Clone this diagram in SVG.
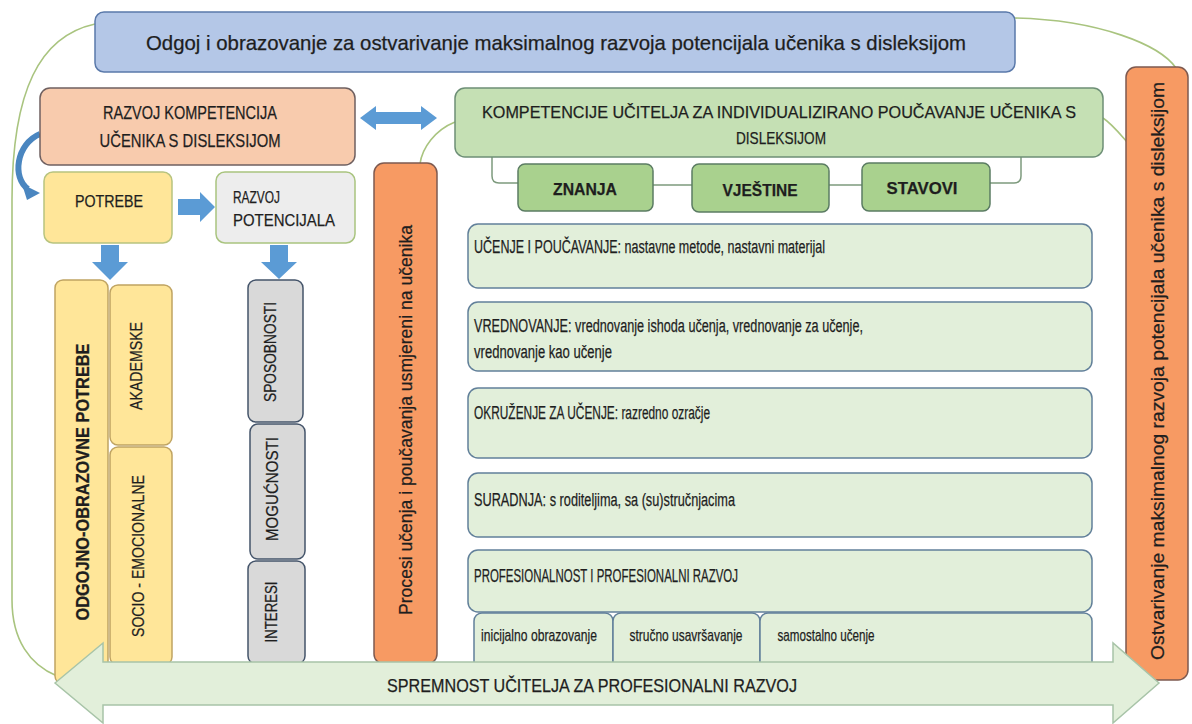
<svg xmlns="http://www.w3.org/2000/svg" width="1192" height="724" viewBox="0 0 1192 724">
<style>
text{font-family:"Liberation Sans",Arial,sans-serif;fill:#1e1e1e;stroke:#1e1e1e;stroke-width:0.25}
.c{text-anchor:middle}
.b{font-weight:bold}
.curve{fill:none;stroke:#a9c47f;stroke-width:1.6}
.peach{fill:#f8cbad;stroke:#6f6060;stroke-width:1.5}
.blue{fill:#b4c7e7;stroke:#5a79aa;stroke-width:1.5}
.gmid{fill:#c5e0b4;stroke:#6d8f76;stroke-width:1.5}
.gdark{fill:#a9d18e;stroke:#5b7c63;stroke-width:1.5}
.glight{fill:#e2efda;stroke:#62809a;stroke-width:1.5}
.orange{fill:#f79a63;stroke:#7e5a50;stroke-width:1.5}
.yel{fill:#ffe699;stroke:#b8c47f;stroke-width:1.5}
.yel2{fill:#ffe699;stroke:#c0a462;stroke-width:1.5}
.grey{fill:#d9d9d9;stroke:#44546a;stroke-width:1.5}
.lgrey{fill:#ededed;stroke:#a9c47f;stroke-width:1.5}
.arr{fill:#5b9bd5;stroke:none}
.big{fill:#e2efda;stroke:#a8c4a8;stroke-width:1.5}
</style>

<g id="connectors">
  <path class="curve" d="M 95 24 C 40 36 12 90 12 200 L 12 600 C 12 640 30 665 57 676"/>
  <path class="curve" d="M 1015 18 C 1100 20 1160 45 1176 68"/>
  <path class="curve" d="M 1103 118 C 1112 124 1120 134 1127 142"/>
  <path class="curve" d="M 455 122 C 435 130 422 148 420 164"/>
  <path class="curve" style="stroke:#7d9a7d;stroke-width:1.5" d="M 492 157 L 492 176 Q 492 183 499 183 L 518 183 M 653 185 L 692 185 M 829 185 L 862 185 M 990 183 L 1014 183 Q 1021 183 1021 176 L 1021 157"/>
  <path d="M 40 134 C 16 144 12 178 28 189" fill="none" stroke="#4a86c0" stroke-width="6"/>
  <polygon points="22,184 40,193 27,200" fill="#4a86c0"/>
  <polygon class="arr" points="360,118 376,106 376,112 421,112 421,106 437,118 421,130 421,124 376,124 376,130"/>
  <polygon class="arr" points="178,199 200,199 200,192 215,207 200,222 200,215 178,215"/>
  <polygon class="arr" points="101,245 119,245 119,262 128,262 110,280 92,262 101,262"/>
  <polygon class="arr" points="270,245 288,245 288,262 297,262 279,279 261,262 270,262"/>
</g>

<g id="title">
  <rect class="blue" x="95" y="12" width="920" height="60" rx="9"/>
  <text class="c" x="556" y="50" font-size="21" textLength="820" lengthAdjust="spacingAndGlyphs">Odgoj i obrazovanje za ostvarivanje maksimalnog razvoja potencijala učenika s disleksijom</text>
</g>

<g id="razvoj-kompetencija">
  <rect class="peach" x="40" y="88" width="315" height="77" rx="10"/>
  <text class="c" x="190" y="119" font-size="19" textLength="174" lengthAdjust="spacingAndGlyphs">RAZVOJ KOMPETENCIJA</text>
  <text class="c" x="190" y="147" font-size="19" textLength="181" lengthAdjust="spacingAndGlyphs">UČENIKA S DISLEKSIJOM</text>
</g>

<g id="kompetencije-ucitelja">
  <rect class="gmid" x="455" y="88" width="648" height="69" rx="10"/>
  <text class="c" x="779" y="118" font-size="17" textLength="594" lengthAdjust="spacingAndGlyphs">KOMPETENCIJE UČITELJA ZA INDIVIDUALIZIRANO POUČAVANJE UČENIKA S</text>
  <text class="c" x="781" y="144" font-size="17" textLength="90" lengthAdjust="spacingAndGlyphs">DISLEKSIJOM</text>
</g>

<g id="znanja">
  <rect class="gdark" x="518" y="164" width="135" height="47" rx="7"/>
  <text class="c b" x="585" y="195" font-size="17" textLength="64" lengthAdjust="spacingAndGlyphs">ZNANJA</text>
</g>
<g id="vjestine">
  <rect class="gdark" x="692" y="164" width="137" height="48" rx="7"/>
  <text class="c b" x="760" y="196" font-size="17" textLength="75" lengthAdjust="spacingAndGlyphs">VJEŠTINE</text>
</g>
<g id="stavovi">
  <rect class="gdark" x="862" y="163" width="128" height="48" rx="7"/>
  <text class="c b" x="922" y="194" font-size="17" textLength="71" lengthAdjust="spacingAndGlyphs">STAVOVI</text>
</g>

<g id="procesi">
  <rect class="orange" x="374" y="163" width="63" height="501" rx="10"/>
  <text class="c" transform="translate(405,420) rotate(-90)" y="7" font-size="19" textLength="390" lengthAdjust="spacingAndGlyphs">Procesi učenja i poučavanja usmjereni na učenika</text>
</g>

<g id="ostvarivanje">
  <rect class="orange" x="1126" y="67" width="62" height="613" rx="10"/>
  <text class="c" transform="translate(1157,371) rotate(-90)" y="7" font-size="18" textLength="578" lengthAdjust="spacingAndGlyphs">Ostvarivanje maksimalnog razvoja potencijala učenika s disleksijom</text>
</g>

<g id="potrebe">
  <rect class="yel" x="44" y="172" width="128" height="71" rx="9"/>
  <text class="c" x="109" y="207" font-size="17" textLength="68" lengthAdjust="spacingAndGlyphs">POTREBE</text>
</g>

<g id="razvoj-potencijala">
  <rect class="lgrey" x="216" y="172" width="139" height="71" rx="9"/>
  <text x="233" y="203" font-size="17" textLength="47" lengthAdjust="spacingAndGlyphs">RAZVOJ</text>
  <text x="233" y="226" font-size="17" textLength="102" lengthAdjust="spacingAndGlyphs">POTENCIJALA</text>
</g>

<g id="odgojno-obrazovne">
  <rect class="yel2" x="55" y="280" width="53" height="404" rx="8"/>
  <text class="c b" transform="translate(83,482) rotate(-90)" y="6" font-size="18" textLength="277" lengthAdjust="spacingAndGlyphs">ODGOJNO-OBRAZOVNE POTREBE</text>
</g>
<g id="akademske">
  <rect class="yel2" x="110" y="285" width="62" height="160" rx="8"/>
  <text class="c" transform="translate(136,366) rotate(-90)" y="6" font-size="17" textLength="88" lengthAdjust="spacingAndGlyphs">AKADEMSKE</text>
</g>
<g id="socio-emocionalne">
  <rect class="yel2" x="110" y="447" width="62" height="218" rx="8"/>
  <text class="c" transform="translate(138,556) rotate(-90)" y="6" font-size="17" textLength="162" lengthAdjust="spacingAndGlyphs">SOCIO - EMOCIONALNE</text>
</g>

<g id="sposobnosti">
  <rect class="grey" x="248" y="280" width="55" height="142" rx="8"/>
  <text class="c" transform="translate(270,352) rotate(-90)" y="6" font-size="17" textLength="100" lengthAdjust="spacingAndGlyphs">SPOSOBNOSTI</text>
</g>
<g id="mogucnosti">
  <rect class="grey" x="250" y="424" width="55" height="135" rx="8"/>
  <text class="c" transform="translate(272,489) rotate(-90)" y="6" font-size="17" textLength="104" lengthAdjust="spacingAndGlyphs">MOGUĆNOSTI</text>
</g>
<g id="interesi">
  <rect class="grey" x="248" y="561" width="57" height="103" rx="8"/>
  <text class="c" transform="translate(271,612) rotate(-90)" y="6" font-size="17" textLength="61" lengthAdjust="spacingAndGlyphs">INTERESI</text>
</g>

<g id="ucenje">
  <rect class="glight" x="468" y="224" width="624" height="64" rx="10"/>
  <text x="474" y="253" font-size="18" textLength="351" lengthAdjust="spacingAndGlyphs">UČENJE I POUČAVANJE: nastavne metode, nastavni materijal</text>
</g>
<g id="vrednovanje">
  <rect class="glight" x="468" y="302" width="624" height="69" rx="10"/>
  <text x="474" y="332" font-size="18" textLength="389" lengthAdjust="spacingAndGlyphs">VREDNOVANJE: vrednovanje ishoda učenja, vrednovanje za učenje,</text>
  <text x="474" y="358" font-size="18" textLength="138" lengthAdjust="spacingAndGlyphs">vrednovanje kao učenje</text>
</g>
<g id="okruzenje">
  <rect class="glight" x="468" y="388" width="624" height="70" rx="10"/>
  <text x="474" y="419" font-size="18" textLength="236" lengthAdjust="spacingAndGlyphs">OKRUŽENJE ZA UČENJE: razredno ozračje</text>
</g>
<g id="suradnja">
  <rect class="glight" x="468" y="473" width="624" height="64" rx="10"/>
  <text x="474" y="506" font-size="18" textLength="261" lengthAdjust="spacingAndGlyphs">SURADNJA:  s roditeljima, sa (su)stručnjacima</text>
</g>
<g id="profesionalnost">
  <rect class="glight" x="468" y="550" width="624" height="62" rx="10"/>
  <text x="474" y="582" font-size="18" textLength="264" lengthAdjust="spacingAndGlyphs">PROFESIONALNOST I PROFESIONALNI RAZVOJ</text>
</g>
<g id="inicijalno">
  <rect class="glight" x="474" y="613" width="139" height="62" rx="8"/>
  <text class="c" x="539" y="641" font-size="17" textLength="116" lengthAdjust="spacingAndGlyphs">inicijalno obrazovanje</text>
</g>
<g id="strucno">
  <rect class="glight" x="613" y="613" width="147" height="62" rx="8"/>
  <text class="c" x="686" y="641" font-size="17" textLength="113" lengthAdjust="spacingAndGlyphs">stručno usavršavanje</text>
</g>
<g id="samostalno">
  <rect class="glight" x="760" y="613" width="332" height="62" rx="8"/>
  <text class="c" x="826" y="641" font-size="17" textLength="97" lengthAdjust="spacingAndGlyphs">samostalno učenje</text>
</g>

<g id="spremnost">
  <polygon class="big" points="55,683 103,643 103,662 1113,662 1113,643 1159,683 1113,723 1113,705 103,705 103,723"/>
  <text class="c" x="592" y="692" font-size="18" textLength="410" lengthAdjust="spacingAndGlyphs">SPREMNOST UČITELJA ZA PROFESIONALNI RAZVOJ</text>
</g>
</svg>
